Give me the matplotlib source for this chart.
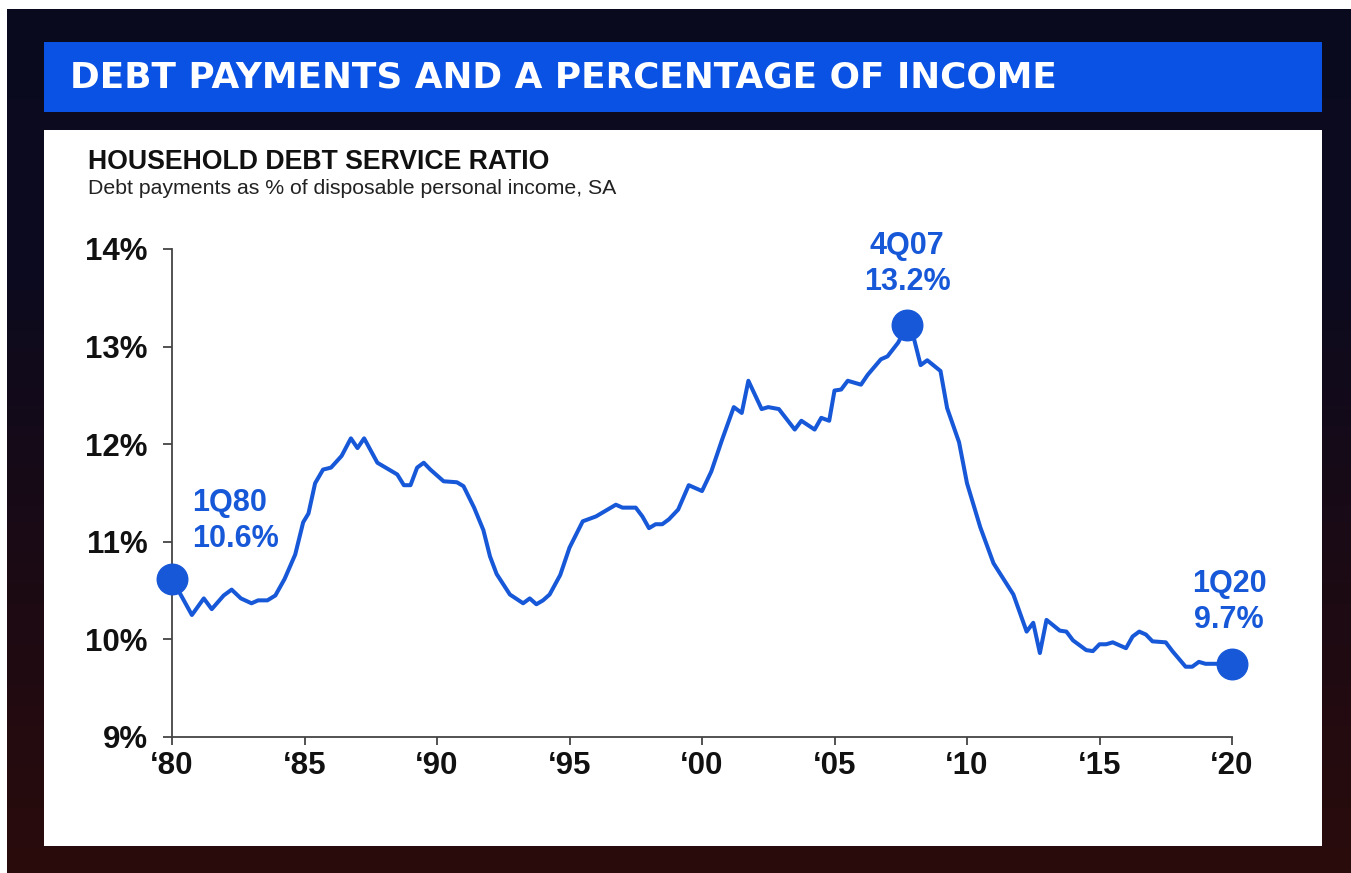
import matplotlib
matplotlib.use('Agg')
import matplotlib.pyplot as plt
import numpy as np
from matplotlib.patches import Rectangle
from matplotlib.colors import LinearSegmentedColormap

# ---------------- data ----------------
years = [1980.0, 1980.75, 1981.2, 1981.5, 1981.95, 1982.25, 1982.6, 1983.0, 1983.25, 1983.6,
         1983.9, 1984.25, 1984.65, 1984.95, 1985.15, 1985.4, 1985.7, 1986.0, 1986.4, 1986.75,
         1987.0, 1987.25, 1987.75, 1988.5, 1988.75, 1989.0, 1989.25, 1989.5, 1989.75, 1990.25,
         1990.75, 1991.0, 1991.4, 1991.75, 1992.0, 1992.25, 1992.75, 1993.25, 1993.5, 1993.75,
         1994.0, 1994.25, 1994.65, 1995.0, 1995.5, 1996.0, 1996.25, 1996.75, 1997.0, 1997.5,
         1997.75, 1998.0, 1998.25, 1998.5, 1998.75, 1999.1, 1999.5, 2000.0, 2000.35, 2000.75,
         2001.2, 2001.5, 2001.75, 2002.25, 2002.5, 2002.9, 2003.5, 2003.75, 2004.25, 2004.5,
         2004.8, 2005.0, 2005.25, 2005.5, 2006.0, 2006.25, 2006.75, 2007.0, 2007.4, 2007.75,
         2008.0, 2008.25, 2008.5, 2009.0, 2009.25, 2009.7, 2010.0, 2010.5, 2011.0, 2011.75,
         2012.25, 2012.5, 2012.75, 2013.0, 2013.5, 2013.75, 2014.0, 2014.5, 2014.75, 2015.0,
         2015.25, 2015.5, 2016.0, 2016.25, 2016.5, 2016.75, 2017.0, 2017.5, 2017.75, 2018.25,
         2018.5, 2018.75, 2019.0, 2019.5, 2020.0]
ratio = [10.62, 10.25, 10.42, 10.31, 10.45, 10.51, 10.42, 10.37, 10.40, 10.40,
         10.45, 10.62, 10.87, 11.20, 11.29, 11.60, 11.74, 11.76, 11.88, 12.06,
         11.96, 12.06, 11.81, 11.69, 11.58, 11.58, 11.76, 11.81, 11.74, 11.62,
         11.61, 11.57, 11.35, 11.12, 10.85, 10.67, 10.46, 10.37, 10.42, 10.36,
         10.40, 10.46, 10.66, 10.94, 11.21, 11.26, 11.30, 11.38, 11.35, 11.35,
         11.26, 11.14, 11.18, 11.18, 11.23, 11.33, 11.58, 11.52, 11.72, 12.04,
         12.38, 12.32, 12.65, 12.36, 12.38, 12.36, 12.15, 12.24, 12.15, 12.27,
         12.24, 12.55, 12.56, 12.65, 12.61, 12.71, 12.87, 12.90, 13.04, 13.22,
         13.08, 12.81, 12.86, 12.75, 12.37, 12.02, 11.60, 11.15, 10.78, 10.46,
         10.08, 10.17, 9.86, 10.20, 10.09, 10.08, 9.99, 9.89, 9.88, 9.95,
         9.95, 9.97, 9.91, 10.03, 10.08, 10.05, 9.98, 9.97, 9.88, 9.72,
         9.72, 9.77, 9.75, 9.75, 9.75]

highlight_years = [1980.0, 2007.75, 2020.0]
highlight_values = [10.62, 13.22, 9.75]
highlight_labels = ['1Q80\n10.6%', '4Q07\n13.2%', '1Q20\n9.7%']

x_ticks = [1980, 1985, 1990, 1995, 2000, 2005, 2010, 2015, 2020]
x_tick_labels = ['\u201880', '\u201885', '\u201890', '\u201895', '\u201800',
                 '\u201805', '\u201810', '\u201815', '\u201820']
y_ticks = [9, 10, 11, 12, 13, 14]
y_tick_labels = ['9%', '10%', '11%', '12%', '13%', '14%']

title = 'DEBT PAYMENTS AND A PERCENTAGE OF INCOME'
chart_title = 'HOUSEHOLD DEBT SERVICE RATIO'
chart_subtitle = 'Debt payments as % of disposable personal income, SA'

# ---------------- styling ----------------
W, H = 1351, 873
BLUE = '#1758d8'
BANNER = '#0a52e4'
SANS = ['Liberation Sans', 'DejaVu Sans']

fig = plt.figure(figsize=(W / 100, H / 100), dpi=100)
fig.patch.set_facecolor('#0b0a1c')


def fx(px):
    return px / W


def fy(py):
    return 1 - py / H


# background gradient (decorative)
bg = fig.add_axes([0, 0, 1, 1], zorder=-10)
grad = np.linspace(0, 1, 256).reshape(-1, 1)
cmap = LinearSegmentedColormap.from_list('bg', ['#0a0b20', '#0d0a1e', '#1c0a14', '#2a0c0c'])
bg.imshow(grad, aspect='auto', cmap=cmap, extent=[0, 1, 0, 1], origin='upper')
bg.set_xlim(0, 1)
bg.set_ylim(0, 1)
bg.axis('off')

# white edge strips
fig.patches.append(Rectangle((0, 0), fx(7), 1, transform=fig.transFigure,
                             facecolor='white', edgecolor='none', zorder=-5))
fig.patches.append(Rectangle((0, fy(9)), 1, 9 / H, transform=fig.transFigure,
                             facecolor='white', edgecolor='none', zorder=-5))

# banner
fig.patches.append(Rectangle((fx(44), fy(112)), fx(1322 - 44), (112 - 42) / H,
                             transform=fig.transFigure, facecolor=BANNER,
                             edgecolor='none', zorder=-4))
fig.text(fx(70), fy(78), title, color='white', fontsize=25.8, fontweight='bold',
         family=['DejaVu Sans'], ha='left', va='center')

# white panel
fig.patches.append(Rectangle((fx(44), fy(846)), fx(1322 - 44), (846 - 130) / H,
                             transform=fig.transFigure, facecolor='white',
                             edgecolor='none', zorder=-4))
fig.text(fx(88), fy(162), chart_title, color='#111111', fontsize=19.2, fontweight='bold',
         family=SANS, ha='left', va='center')
fig.text(fx(88), fy(188), chart_subtitle, color='#222222', fontsize=15.3,
         family=SANS, ha='left', va='center')

# chart axes
ax = fig.add_axes([fx(172), fy(737), fx(1232 - 172), (737 - 249) / H])
ax.set_facecolor('none')
ax.plot(years, ratio, color=BLUE, lw=2.9, solid_joinstyle='round', clip_on=False, zorder=3)
ax.plot(highlight_years, highlight_values, 'o', color=BLUE, ms=22, clip_on=False, zorder=4)

offsets = [(20, 58, 'left'), (0, 61, 'center'), (-3, 62, 'center')]
for xv, yv, lab, (dx, dy, ha) in zip(highlight_years, highlight_values, highlight_labels, offsets):
    ax.annotate(lab, xy=(xv, yv), xytext=(dx, dy), textcoords='offset pixels',
                ha=ha, va='center', color=BLUE, fontsize=22, fontweight='bold',
                family=SANS, linespacing=1.25, annotation_clip=False)

ax.set_xlim(1980, 2020)
ax.set_ylim(9, 14)
ax.set_xticks(x_ticks)
ax.set_xticklabels(x_tick_labels)
ax.set_yticks(y_ticks)
ax.set_yticklabels(y_tick_labels)
for s in ['top', 'right']:
    ax.spines[s].set_visible(False)
for s in ['left', 'bottom']:
    ax.spines[s].set_color('#444444')
    ax.spines[s].set_linewidth(1.3)
ax.tick_params(axis='y', direction='out', length=6.5, width=1.3, color='#444444',
               pad=11, labelsize=22.5, labelcolor='#111111')
ax.tick_params(axis='x', direction='out', length=6, width=1.3, color='#444444',
               pad=4, labelsize=22.5, labelcolor='#111111')
for lbl in ax.get_xticklabels() + ax.get_yticklabels():
    lbl.set_fontweight('bold')
    lbl.set_family(SANS)

fig.savefig('out.png', dpi=100, facecolor=fig.get_facecolor())
